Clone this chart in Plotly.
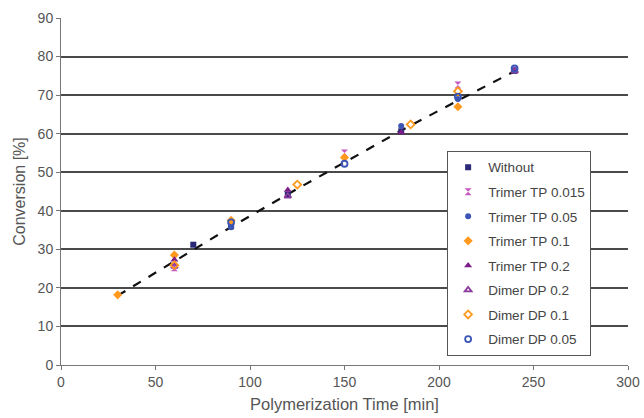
import plotly.graph_objects as go

# Data
without_x = [70, 90, 120, 180, 240]
without_y = [31.2, 36.0, 44.2, 60.6, 76.3]

tp0015_x = [60, 150, 210]
tp0015_y = [25.2, 55.0, 72.6]

tp005_x = [90, 180, 210, 240]
tp005_y = [35.7, 62.0, 69.0, 76.5]

tp01_x = [30, 60, 90, 150, 210]
tp01_y = [18.2, 28.5, 37.5, 53.8, 67.0]

tp02_x = [60, 120, 180, 240]
tp02_y = [27.3, 45.4, 60.3, 76.2]

dp02_x = [60, 120, 240]
dp02_y = [25.6, 43.8, 76.3]

dp01_x = [60, 125, 185, 210]
dp01_y = [25.9, 46.8, 62.4, 71.0]

dp005_x = [90, 150, 210, 240]
dp005_y = [37.0, 52.2, 69.6, 76.9]

fit_x = [30, 60, 90, 120, 150, 180, 210, 240]
fit_y = [18.0, 27.0, 35.8, 44.3, 52.6, 60.8, 68.6, 76.2]

x_ticks = [0, 50, 100, 150, 200, 250, 300]
y_ticks = [0, 10, 20, 30, 40, 50, 60, 70, 80, 90]

series = [
    ("Without", without_x, without_y, "square", "#2B2878", 6),
    ("Trimer TP 0.015", tp0015_x, tp0015_y, "hourglass", "#C659C0", 7),
    ("Trimer TP 0.05", tp005_x, tp005_y, "circle", "#3A55B4", 6),
    ("Trimer TP 0.1", tp01_x, tp01_y, "diamond", "#FF9A1F", 7),
    ("Trimer TP 0.2", tp02_x, tp02_y, "triangle-up", "#7B1E86", 7),
    ("Dimer DP 0.2", dp02_x, dp02_y, "triangle-up-open", "#8A3A9C", 6),
    ("Dimer DP 0.1", dp01_x, dp01_y, "diamond-open", "#FF9A1F", 6),
    ("Dimer DP 0.05", dp005_x, dp005_y, "circle-open", "#3A55B4", 6),
]

fig = go.Figure()

fig.add_trace(go.Scatter(
    x=fit_x, y=fit_y, mode="lines",
    line=dict(color="#111111", width=2.2, dash="dash"),
    showlegend=False, hoverinfo="skip",
))

for i, (name, xs, ys, sym, col, sz) in enumerate(series):
    fig.add_trace(go.Scatter(
        x=xs, y=ys, mode="markers", name=name,
        legendgroup=f"g{i}",
        marker=dict(symbol=sym, color=col, size=sz,
                    line=dict(color=col, width=1.8 if "open" in sym else 0)),
    ))

font_family = "Liberation Sans, Arial, sans-serif"

fig.update_layout(
    width=644, height=418,
    margin=dict(l=61, r=16, t=18, b=53),
    paper_bgcolor="white",
    plot_bgcolor="white",
    font=dict(family=font_family, color="#555555", size=12),
    legend=dict(
        x=0.681, y=0.617, xanchor="left", yanchor="top",
        bgcolor="white", bordercolor="#555555", borderwidth=1,
        font=dict(size=13.5, color="#444444"),
        tracegroupgap=4,
        traceorder="grouped",
        itemwidth=30,
    ),
    xaxis=dict(
        range=[0, 300], tickvals=x_ticks, automargin=False,
        showgrid=False, zeroline=False,
        showline=True, linecolor="#777777", linewidth=1,
        ticks="outside", ticklen=4, tickcolor="#777777",
        tickfont=dict(size=14, color="#555555"),
        title=dict(text="Polymerization Time [min]", font=dict(size=16.5, color="#555555"), standoff=9),
    ),
    yaxis=dict(
        range=[0, 90], tickvals=y_ticks, automargin=False,
        showgrid=True, gridcolor="#4a4a4a", gridwidth=1.6,
        zeroline=False,
        showline=True, linecolor="#777777", linewidth=1,
        ticks="outside", ticklen=4, tickcolor="#777777",
        tickfont=dict(size=14, color="#555555"),
        title=dict(text="Conversion [%]", font=dict(size=16, color="#555555"), standoff=8),
    ),
)

fig.write_html("out.html", config={"displayModeBar": False},
               post_script="document.body.style.margin='0';")
